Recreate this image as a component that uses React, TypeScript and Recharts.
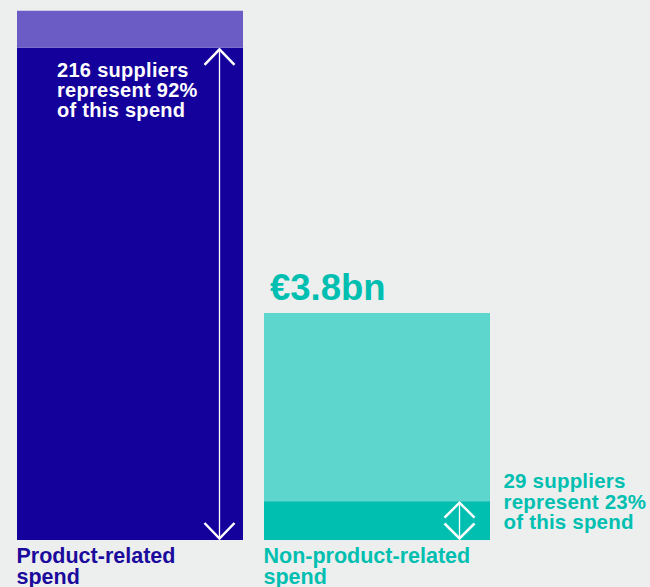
import * as React from "react";
import { BarChart, Bar, XAxis, YAxis, Cell } from "recharts";

// spend split, € bn
const categories = ["Product-related spend", "Non-product-related spend"];
const categoryLines = [["Product-related", "spend"], ["Non-product-related", "spend"]];
const keySupplierSpend = [8.24, 0.65];
const otherSpend = [0.62, 3.15];
const totalLabels = ["€8.9bn", "€3.8bn"];
const noteLines = [
  ["216 suppliers", "represent 92%", "of this spend"],
  ["29 suppliers", "represent 23%", "of this spend"],
];

const coreColors = ["#14009B", "#00BFB1"];
const restColors = ["#6A5CC4", "#5DD7CD"];
const textColors = ["#1B0A9C", "#00BFB1"];
const FONT = "'Liberation Sans', Arial, Helvetica, sans-serif";
const BAR = 226;

const data = categories.map((name, i) => ({
  name,
  i,
  core: keySupplierSpend[i],
  rest: otherSpend[i],
}));

function CoreShape(props: any) {
  const { x, y, width, height, fill, payload } = props;
  const i = payload.i;
  const bottom = y + height;
  if (i === 0) {
    const ax = x + width - 23.5;
    return (
      <g>
        <rect x={x} y={y} width={width} height={height} fill={fill} />
        <text x={x + 40} y={y + 29} fill="#fff" fontFamily={FONT} fontWeight={700} fontSize={20} letterSpacing={0.3}>
          {noteLines[i].map((l, k) => (
            <tspan key={k} x={x + 40} dy={k === 0 ? 0 : 20}>{l}</tspan>
          ))}
        </text>
        <g stroke="#fff" fill="none">
          <line x1={ax} y1={y + 2} x2={ax} y2={bottom - 2} strokeWidth={1.3} />
          <polyline points={`${ax - 15},${y + 17} ${ax},${y + 1.5} ${ax + 15},${y + 17}`} strokeWidth={2.5} />
          <polyline points={`${ax - 15},${bottom - 17} ${ax},${bottom - 1.5} ${ax + 15},${bottom - 17}`} strokeWidth={2.5} />
        </g>
      </g>
    );
  }
  const ax = x + width - 30.5;
  const tx = x + width + 13.5;
  return (
    <g>
      <rect x={x} y={y} width={width} height={height} fill={fill} />
      <g stroke="#fff" fill="none">
        <line x1={ax} y1={y + 2} x2={ax} y2={bottom - 2} strokeWidth={1.3} />
        <polyline points={`${ax - 15},${y + 16.5} ${ax},${y + 1.5} ${ax + 15},${y + 16.5}`} strokeWidth={2.5} />
        <polyline points={`${ax - 15},${bottom - 16.5} ${ax},${bottom - 1.5} ${ax + 15},${bottom - 16.5}`} strokeWidth={2.5} />
      </g>
      <text x={tx} y={bottom - 52} fill={textColors[i]} fontFamily={FONT} fontWeight={700} fontSize={20.5} letterSpacing={0.2}>
        {noteLines[i].map((l, k) => (
          <tspan key={k} x={tx} dy={k === 0 ? 0 : 20.5}>{l}</tspan>
        ))}
      </text>
    </g>
  );
}

function RestShape(props: any) {
  const { x, y, width, height, fill, payload } = props;
  const i = payload.i;
  return (
    <g>
      <rect x={x} y={y} width={width} height={height} fill={fill} />
      <text x={x + 6} y={y - 13} fill={textColors[i]} fontFamily={FONT} fontWeight={700} fontSize={36.5}>
        {totalLabels[i]}
      </text>
    </g>
  );
}

function CategoryTick(props: any) {
  const { x, y, payload } = props;
  const i = payload.index;
  const left = x - BAR / 2;
  return (
    <text x={left} y={y} fill={textColors[i]} fontFamily={FONT} fontWeight={700} fontSize={21.5}>
      {categoryLines[i].map((l, k) => (
        <tspan key={k} x={left} dy={k === 0 ? 15 : 21}>{l}</tspan>
      ))}
    </text>
  );
}

export default function App() {
  return (
    <div style={{ position: "absolute", left: 0, top: 0, width: 650, height: 587, background: "#ECEFEE", overflow: "hidden" }}>
      <BarChart width={650} height={587} data={data} margin={{ top: 0, right: 150, bottom: 0, left: 6 }} barSize={BAR}>
        <YAxis hide type="number" domain={[0, 9.04]} />
        <XAxis dataKey="name" axisLine={false} tickLine={false} height={47} interval={0} tick={<CategoryTick />} />
        <Bar dataKey="core" stackId="a" isAnimationActive={false} shape={<CoreShape />}>
          {data.map((d) => (
            <Cell key={d.name} fill={coreColors[d.i]} />
          ))}
        </Bar>
        <Bar dataKey="rest" stackId="a" isAnimationActive={false} shape={<RestShape />}>
          {data.map((d) => (
            <Cell key={d.name} fill={restColors[d.i]} />
          ))}
        </Bar>
      </BarChart>
    </div>
  );
}
